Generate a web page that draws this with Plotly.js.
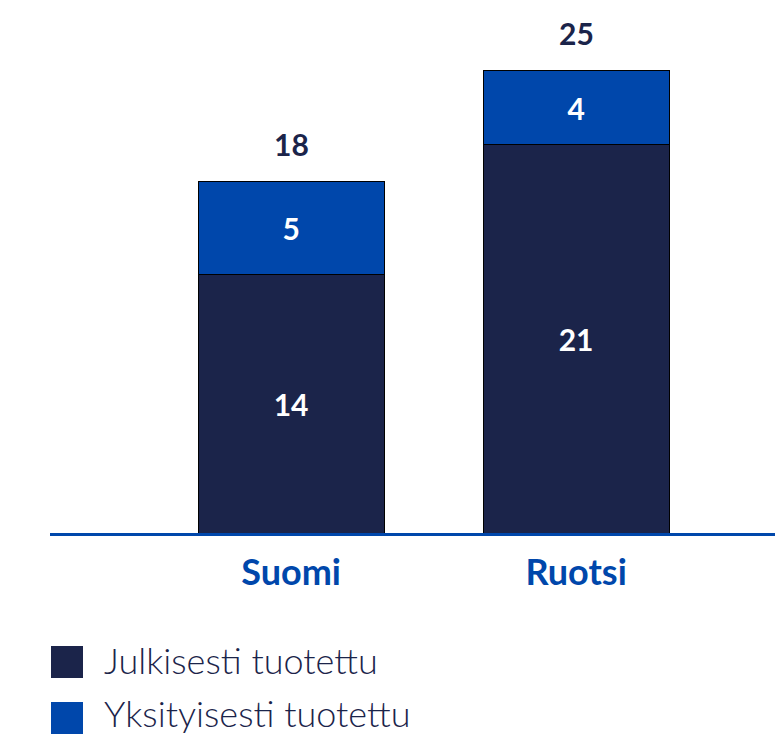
<!DOCTYPE html>
<html>
<head>
<meta charset="utf-8">
<script src="https://cdn.plot.ly/plotly-3.0.1.min.js"></script>
<style>
html,body{margin:0;padding:0;background:#fff;}
#chart{width:775px;height:737px;}
</style>
</head>
<body>
<div id="chart"></div>
<script>
var categories = ["Suomi", "Ruotsi"];
var julkisesti = [14, 21];
var yksityisesti = [5, 4];
var totals = [18, 25];
var seriesNames = ["Julkisesti tuotettu", "Yksityisesti tuotettu"];
var colors = ["#1b244a", "#0047ab"];

var W = 775, H = 737;
var mL = 50, mR = 0, mT = 20, mB = 204;
var plotW = W - mL - mR, plotH = H - mT - mB;
function px2paperX(px){ return (px - mL) / plotW; }
function px2paperY(py){ return (H - mB - py) / plotH; }

var font = "Lato, 'Open Sans', sans-serif";

var traces = [julkisesti, yksityisesti].map(function(vals, i){
  return {
    type: "bar",
    x: categories,
    y: vals,
    name: seriesNames[i],
    marker: {color: colors[i], line: {color: "#000", width: 1}},
    text: vals.map(String),
    textposition: "inside",
    insidetextanchor: "middle",
    constraintext: "none",
    textfont: {color: "#ffffff", size: 30, family: font, weight: 700},
    hoverinfo: "skip"
  };
});

var annotations = categories.map(function(c, i){
  return {
    x: c, y: julkisesti[i] + yksityisesti[i],
    xref: "x", yref: "y",
    text: String(totals[i]),
    showarrow: false,
    yanchor: "bottom",
    yshift: 18,
    font: {color: "#1b244a", size: 30, family: font, weight: 700}
  };
});

var shapes = [];
var boxY = [662, 718];
var textY = [660, 713];
seriesNames.forEach(function(n, i){
  shapes.push({
    type: "rect", xref: "paper", yref: "paper",
    x0: px2paperX(51), x1: px2paperX(83),
    y0: px2paperY(boxY[i] - 16), y1: px2paperY(boxY[i] + 16),
    fillcolor: colors[i], line: {width: 0}
  });
  annotations.push({
    xref: "paper", yref: "paper",
    x: px2paperX(102), y: px2paperY(textY[i]),
    xanchor: "left", yanchor: "middle",
    text: n, showarrow: false,
    font: {color: "#1b244a", size: 36, family: font, weight: 300}
  });
});

var layout = {
  width: W, height: H,
  margin: {l: mL, r: mR, t: mT, b: mB, pad: 0},
  paper_bgcolor: "#ffffff",
  plot_bgcolor: "#ffffff",
  barmode: "stack",
  bargap: 0.347,
  showlegend: false,
  xaxis: {
    type: "category",
    range: [-0.846, 1.698],
    showline: true, linecolor: "#0047ab", linewidth: 3,
    showgrid: false, zeroline: false, ticks: "",
    ticklabelstandoff: 6,
    tickfont: {color: "#0047ab", size: 36, family: font, weight: 700}
  },
  yaxis: {
    range: [0, 27.75],
    visible: false,
    showgrid: false, zeroline: false
  },
  annotations: annotations,
  shapes: shapes
};

Plotly.newPlot("chart", traces, layout, {displayModeBar: false, staticPlot: true});
</script>
</body>
</html>
